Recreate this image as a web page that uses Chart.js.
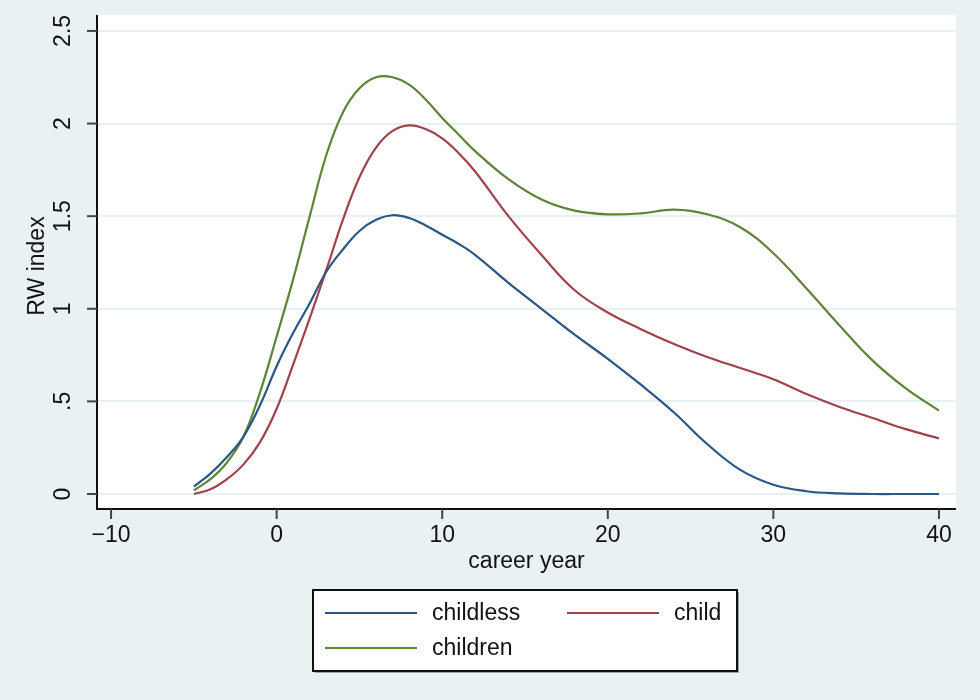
<!DOCTYPE html>
<html>
<head>
<meta charset="utf-8">
<script src="https://cdn.jsdelivr.net/npm/chart.js@4/dist/chart.umd.min.js"></script>
<style>
  html, body { margin: 0; padding: 0; background: #e9f1f3; }
  #wrap { width: 980px; height: 700px; position: relative; }
</style>
</head>
<body>
<div id="wrap"><canvas id="rw-chart"></canvas></div>
<script>
const years = [-5, -4, -3, -2, -1, 0, 1, 2, 3, 4, 5, 6, 7, 8, 9, 10, 11, 12,
               14, 16, 18, 20, 22, 24, 26, 28, 30, 32, 34, 36, 38, 40];

const childless = [0.04, 0.11, 0.20, 0.31, 0.48, 0.69, 0.87, 1.03, 1.20, 1.32, 1.42, 1.48, 1.505, 1.49, 1.45, 1.40, 1.35, 1.29,
                   1.14, 1.00, 0.86, 0.73, 0.59, 0.44, 0.27, 0.13, 0.05, 0.015, 0.003, 0, 0, 0];
const child = [0.0, 0.025, 0.08, 0.16, 0.28, 0.46, 0.70, 0.95, 1.21, 1.48, 1.71, 1.87, 1.96, 1.99, 1.97, 1.92, 1.84, 1.74,
               1.50, 1.29, 1.10, 0.98, 0.89, 0.81, 0.74, 0.68, 0.62, 0.54, 0.47, 0.41, 0.35, 0.30];
const children = [0.02, 0.08, 0.17, 0.31, 0.55, 0.85, 1.16, 1.50, 1.83, 2.06, 2.19, 2.25, 2.25, 2.21, 2.13, 2.03, 1.94, 1.85,
                  1.70, 1.59, 1.53, 1.51, 1.515, 1.535, 1.51, 1.44, 1.30, 1.11, 0.91, 0.72, 0.57, 0.45];

const xTicks = [-10, 0, 10, 20, 30, 40];
const yTicks = [0, 0.5, 1, 1.5, 2, 2.5];
const yTickLabels = ["0", ".5", "1", "1.5", "2", "2.5"];

const FONT = "'Liberation Sans', Arial, Helvetica, sans-serif";
const colors = { childless: "#2a5783", child: "#a0424b", children: "#5e8438" };

function toPoints(vals) {
    return years.map(function (x, i) { return { x: x, y: vals[i] }; });
}

// backgrounds, axes, tick labels, titles and the boxed legend (Stata style)
const stataFrame = {
    id: "stataFrame",
    beforeDraw: function (chart) {
        const ctx = chart.ctx, a = chart.chartArea;
        ctx.save();
        ctx.fillStyle = "#e9f1f3";
        ctx.fillRect(0, 0, chart.width, chart.height);
        ctx.fillStyle = "#ffffff";
        ctx.fillRect(a.left, a.top, a.right - a.left, a.bottom - a.top);
        ctx.restore();
    },
    afterDraw: function (chart) {
        const ctx = chart.ctx, a = chart.chartArea;
        const xs = chart.scales.x, ys = chart.scales.y;
        ctx.save();

        // axis lines
        ctx.strokeStyle = "#111";
        ctx.lineWidth = 2;
        ctx.beginPath();
        ctx.moveTo(a.left, a.top);
        ctx.lineTo(a.left, a.bottom);
        ctx.lineTo(a.right, a.bottom);
        ctx.stroke();

        // tick marks + labels
        ctx.strokeStyle = "#444";
        ctx.fillStyle = "#111";
        ctx.font = "23px " + FONT;
        ctx.textAlign = "center";
        ctx.textBaseline = "middle";
        xTicks.forEach(function (t) {
            const px = xs.getPixelForValue(t);
            ctx.beginPath();
            ctx.moveTo(px, a.bottom);
            ctx.lineTo(px, a.bottom + 10);
            ctx.stroke();
            ctx.fillText(t < 0 ? "\u2212" + Math.abs(t) : String(t), px, a.bottom + 27);
        });
        yTicks.forEach(function (t, i) {
            const py = ys.getPixelForValue(t);
            ctx.beginPath();
            ctx.moveTo(a.left - 10, py);
            ctx.lineTo(a.left, py);
            ctx.stroke();
            ctx.save();
            ctx.translate(a.left - 33, py);
            ctx.rotate(-Math.PI / 2);
            ctx.fillText(yTickLabels[i], 0, 0);
            ctx.restore();
        });

        // axis titles
        ctx.fillText("career year", (a.left + a.right) / 2, a.bottom + 53);
        ctx.save();
        ctx.translate(38, (a.top + a.bottom) / 2 + 4);
        ctx.rotate(-Math.PI / 2);
        ctx.fillText("RW index", 0, 0);
        ctx.restore();

        // legend box
        const box = { x: 313, y: 590, w: 424, h: 81 };
        ctx.fillStyle = "#9aa3a6";
        ctx.fillRect(box.x + 2, box.y + 2, box.w, box.h);
        ctx.fillStyle = "#ffffff";
        ctx.fillRect(box.x, box.y, box.w, box.h);
        ctx.strokeStyle = "#111";
        ctx.lineWidth = 2;
        ctx.strokeRect(box.x, box.y, box.w, box.h);

        const slots = [
            { lx: 325, ly: 613 },
            { lx: 567, ly: 613 },
            { lx: 325, ly: 648 }
        ];
        ctx.font = "23px " + FONT;
        ctx.textAlign = "left";
        chart.data.datasets.forEach(function (ds, i) {
            const s = slots[i];
            ctx.strokeStyle = ds.borderColor;
            ctx.lineWidth = 2;
            ctx.beginPath();
            ctx.moveTo(s.lx, s.ly);
            ctx.lineTo(s.lx + 92, s.ly);
            ctx.stroke();
            ctx.fillStyle = "#111";
            ctx.fillText(ds.label, s.lx + 107, s.ly + 1);
        });
        ctx.restore();
    }
};

new Chart(document.getElementById("rw-chart").getContext("2d"), {
    type: "line",
    data: {
        datasets: [
            { label: "childless", data: toPoints(childless), borderColor: colors.childless },
            { label: "child", data: toPoints(child), borderColor: colors.child },
            { label: "children", data: toPoints(children), borderColor: colors.children }
        ]
    },
    options: {
        responsive: true,
        maintainAspectRatio: false,
        animation: false,
        layout: { padding: { left: 97, top: 15, right: 24, bottom: 183 } },
        elements: {
            point: { radius: 0 },
            line: { borderWidth: 2.2, tension: 0.4, fill: false }
        },
        plugins: {
            legend: { display: false },
            tooltip: { enabled: false }
        },
        scales: {
            x: {
                type: "linear",
                min: -10.85,
                max: 41.03,
                afterBuildTicks: function (axis) { axis.ticks = xTicks.map(function (v) { return { value: v }; }); },
                ticks: { display: false },
                grid: { display: false },
                border: { display: false }
            },
            y: {
                type: "linear",
                min: -0.081,
                max: 2.586,
                afterBuildTicks: function (axis) { axis.ticks = yTicks.map(function (v) { return { value: v }; }); },
                ticks: { display: false },
                grid: { color: "#e8f0f1", lineWidth: 2, drawTicks: false },
                border: { display: false }
            }
        }
    },
    plugins: [stataFrame]
});
</script>
</body>
</html>
